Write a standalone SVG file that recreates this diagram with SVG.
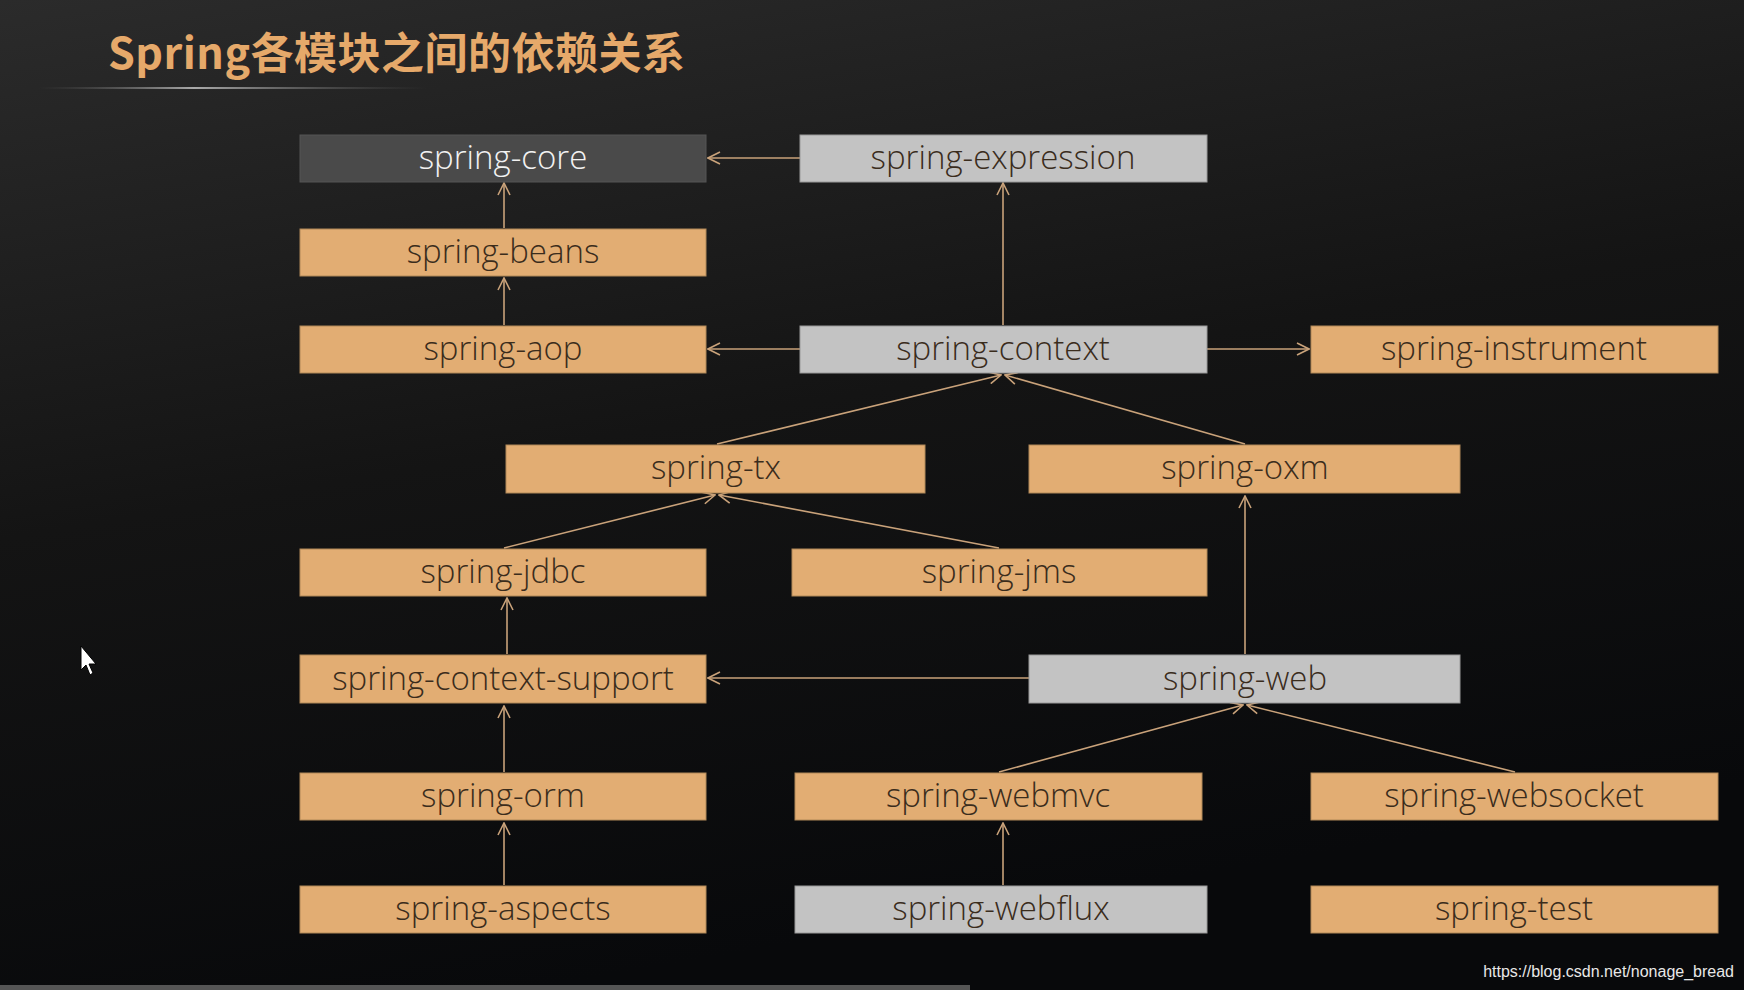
<svg xmlns="http://www.w3.org/2000/svg" width="1744" height="990" viewBox="0 0 1744 990">
<defs>
<linearGradient id="bg" x1="0" y1="0" x2="0.3" y2="1"><stop offset="0" stop-color="#2b2b2b"/><stop offset="0.5" stop-color="#141414"/><stop offset="1" stop-color="#08090b"/></linearGradient>
<linearGradient id="ul" x1="0" y1="0" x2="1" y2="0"><stop offset="0" stop-color="#555" stop-opacity="0"/><stop offset="0.4" stop-color="#aaa"/><stop offset="1" stop-color="#555" stop-opacity="0"/></linearGradient>
<marker id="ah" viewBox="0 0 14 14" refX="13" refY="7" markerWidth="14" markerHeight="14" markerUnits="userSpaceOnUse" orient="auto"><path d="M1,1 L13,7 L1,13" fill="none" stroke="#c9a27a" stroke-width="1.6"/></marker>
<style>
.o{fill:#e2ad73;stroke:#b08858;stroke-width:1}
.g{fill:#c3c3c3;stroke:#999;stroke-width:1}
.d{fill:#4a4a4a;stroke:#555;stroke-width:1}
text.l{font-family:"Open Sans","Noto Sans",sans-serif;font-weight:300;font-size:33px;text-anchor:middle;fill:#3a2c1c}
text.w{fill:#f2f2f2}
#connectors line{stroke:#c9a27a;stroke-width:1.6;marker-end:url(#ah)}
</style>
</defs>
<rect width="1744" height="990" fill="url(#bg)"/>
<text x="108" y="69" font-family="'Noto Sans CJK SC','Open Sans',sans-serif" font-weight="700" font-size="43" letter-spacing="0.5" fill="#e6a96a">Spring各模块之间的依赖关系</text>
<rect x="38" y="87" width="390" height="2" fill="url(#ul)"/>
<g id="connectors">
<line x1="800" y1="158" x2="708" y2="158"/>
<line x1="504" y1="228" x2="504" y2="183"/>
<line x1="504" y1="325" x2="504" y2="278"/>
<line x1="800" y1="349" x2="708" y2="349"/>
<line x1="1003" y1="325" x2="1003" y2="183"/>
<line x1="1207" y1="349" x2="1309" y2="349"/>
<line x1="717" y1="444" x2="1001" y2="375"/>
<line x1="1245" y1="444" x2="1005" y2="375"/>
<line x1="504" y1="548" x2="715" y2="495"/>
<line x1="999" y1="548" x2="719" y2="495"/>
<line x1="507" y1="654" x2="507" y2="598"/>
<line x1="1029" y1="678" x2="708" y2="678"/>
<line x1="1245" y1="654" x2="1245" y2="496"/>
<line x1="504" y1="772" x2="504" y2="706"/>
<line x1="999" y1="772" x2="1243" y2="705"/>
<line x1="1515" y1="772" x2="1247" y2="705"/>
<line x1="504" y1="885" x2="504" y2="823"/>
<line x1="1003" y1="885" x2="1003" y2="823"/>
</g>
<g id="core"><rect class="d" x="300" y="135" width="406" height="47"/><text class="l w" x="503" y="169">spring-core</text></g>
<g id="expression"><rect class="g" x="800" y="135" width="407" height="47"/><text class="l" x="1003" y="169">spring-expression</text></g>
<g id="beans"><rect class="o" x="300" y="229" width="406" height="47"/><text class="l" x="503" y="263">spring-beans</text></g>
<g id="aop"><rect class="o" x="300" y="326" width="406" height="47"/><text class="l" x="503" y="360">spring-aop</text></g>
<g id="context"><rect class="g" x="800" y="326" width="407" height="47"/><text class="l" x="1003" y="360">spring-context</text></g>
<g id="instrument"><rect class="o" x="1311" y="326" width="407" height="47"/><text class="l" x="1514" y="360">spring-instrument</text></g>
<g id="tx"><rect class="o" x="506" y="445" width="419" height="48"/><text class="l" x="716" y="479">spring-tx</text></g>
<g id="oxm"><rect class="o" x="1029" y="445" width="431" height="48"/><text class="l" x="1245" y="479">spring-oxm</text></g>
<g id="jdbc"><rect class="o" x="300" y="549" width="406" height="47"/><text class="l" x="503" y="583">spring-jdbc</text></g>
<g id="jms"><rect class="o" x="792" y="549" width="415" height="47"/><text class="l" x="999" y="583">spring-jms</text></g>
<g id="context-support"><rect class="o" x="300" y="655" width="406" height="48"/><text class="l" x="503" y="690">spring-context-support</text></g>
<g id="web"><rect class="g" x="1029" y="655" width="431" height="48"/><text class="l" x="1245" y="690">spring-web</text></g>
<g id="orm"><rect class="o" x="300" y="773" width="406" height="47"/><text class="l" x="503" y="807">spring-orm</text></g>
<g id="webmvc"><rect class="o" x="795" y="773" width="407" height="47"/><text class="l" x="998" y="807">spring-webmvc</text></g>
<g id="websocket"><rect class="o" x="1311" y="773" width="407" height="47"/><text class="l" x="1514" y="807">spring-websocket</text></g>
<g id="aspects"><rect class="o" x="300" y="886" width="406" height="47"/><text class="l" x="503" y="920">spring-aspects</text></g>
<g id="webflux"><rect class="g" x="795" y="886" width="412" height="47"/><text class="l" x="1001" y="920">spring-webflux</text></g>
<g id="test"><rect class="o" x="1311" y="886" width="407" height="47"/><text class="l" x="1514" y="920">spring-test</text></g>
<path d="M81,646 L81,670 L86,665 L90,675 L93,673 L89,664 L96,664 Z" fill="#fff" stroke="#000" stroke-width="1"/>
<text x="1734" y="977" font-family="'Liberation Sans',sans-serif" font-size="16" fill="#e8e8e8" text-anchor="end">https://blog.csdn.net/nonage_bread</text>
<rect x="0" y="985" width="970" height="5" fill="#555"/>
</svg>
